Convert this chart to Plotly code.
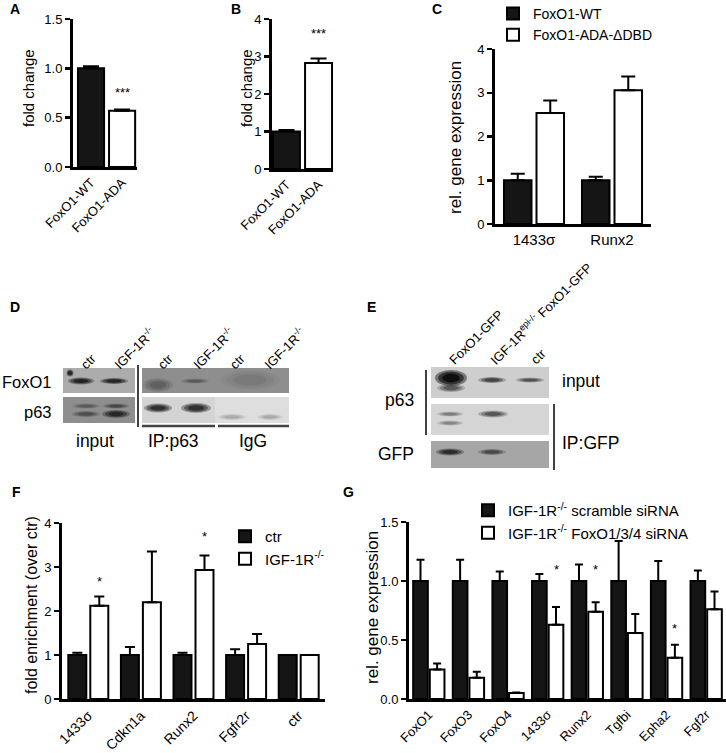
import plotly.graph_objects as go

W, H = 726, 753
def fx(x): return x / W
def fy(y): return 1 - y / H

# ---------------- data ----------------
A_cats = ["FoxO1-WT", "FoxO1-ADA"]
A_vals = [1.0, 0.57]
A_err = [0.02, 0.012]
A_star = [None, 0.76]

B_cats = ["FoxO1-WT", "FoxO1-ADA"]
B_vals = [1.0, 2.83]
B_err = [0.04, 0.12]
B_star = [None, 3.60]

C_genes = ["1433σ", "Runx2"]
C_wt = [1.0, 1.0]
C_wt_err = [0.15, 0.08]
C_ada = [2.54, 3.06]
C_ada_err = [0.28, 0.31]

F_genes = ["1433σ", "Cdkn1a", "Runx2", "Fgfr2r", "ctr"]
F_ctr = [1.0, 1.0, 1.0, 1.0, 1.0]
F_ctr_err = [0.05, 0.18, 0.05, 0.13, 0.0]
F_ko = [2.12, 2.20, 2.93, 1.25, 1.0]
F_ko_err = [0.21, 1.15, 0.33, 0.23, 0.0]
F_star = [2.66, None, 3.70, None, None]

G_genes = ["FoxO1", "FoxO3", "FoxO4", "1433σ", "Runx2", "Tgfbi", "Epha2", "Fgf2r"]
G_scr = [1.0, 1.0, 1.0, 1.0, 1.0, 1.0, 1.0, 1.0]
G_scr_err = [0.18, 0.18, 0.08, 0.06, 0.14, 0.34, 0.17, 0.09]
G_si = [0.25, 0.18, 0.05, 0.63, 0.74, 0.56, 0.35, 0.76]
G_si_err = [0.05, 0.05, 0.005, 0.15, 0.08, 0.16, 0.11, 0.15]
G_star = [None, None, None, 1.095, 1.095, None, 0.595, None]

BLACK = "#151515"
FONT = "Liberation Sans, Arial, sans-serif"

fig = go.Figure()

def err(arr, w=6):
    return dict(type="data", array=arr, arrayminus=[0] * len(arr), symmetric=False,
                color="black", thickness=2, width=w)

# A
fig.add_trace(go.Bar(x=A_cats, y=A_vals, width=0.84, marker=dict(color=[BLACK, "white"], line=dict(color="black", width=2)),
                     error_y=err(A_err, 8), showlegend=False, xaxis="x", yaxis="y"))
# B
fig.add_trace(go.Bar(x=B_cats, y=B_vals, width=0.84, marker=dict(color=[BLACK, "white"], line=dict(color="black", width=2)),
                     error_y=err(B_err, 8), showlegend=False, xaxis="x2", yaxis="y2"))
# C
cw, cg = 0.353, 0.064
fig.add_trace(go.Bar(x=C_genes, y=C_wt, name="FoxO1-WT", width=cw, offset=-cw - cg / 2,
                     marker=dict(color=BLACK, line=dict(color="black", width=2)),
                     error_y=err(C_wt_err, 7), xaxis="x3", yaxis="y3", legend="legend"))
fig.add_trace(go.Bar(x=C_genes, y=C_ada, name="FoxO1-ADA-ΔDBD", width=cw, offset=cg / 2,
                     marker=dict(color="white", line=dict(color="black", width=2)),
                     error_y=err(C_ada_err, 7), xaxis="x3", yaxis="y3", legend="legend"))
# F
fw, fgap = 0.342, 0.076
fig.add_trace(go.Bar(x=F_genes, y=F_ctr, name="ctr", width=fw, offset=-fw - fgap / 2,
                     marker=dict(color=BLACK, line=dict(color="black", width=2)),
                     error_y=err(F_ctr_err, 5), xaxis="x4", yaxis="y4", legend="legend2"))
fig.add_trace(go.Bar(x=F_genes, y=F_ko, name="IGF-1R<sup>-/-</sup>", width=fw, offset=fgap / 2,
                     marker=dict(color="white", line=dict(color="black", width=2)),
                     error_y=err(F_ko_err, 5), xaxis="x4", yaxis="y4", legend="legend2"))
# G
gw, ggap = 0.37, 0.05
fig.add_trace(go.Bar(x=G_genes, y=G_scr, name="IGF-1R<sup>-/-</sup> scramble siRNA", width=gw, offset=-gw - ggap / 2,
                     marker=dict(color=BLACK, line=dict(color="black", width=2)),
                     error_y=err(G_scr_err, 4), xaxis="x5", yaxis="y5", legend="legend3"))
fig.add_trace(go.Bar(x=G_genes, y=G_si, name="IGF-1R<sup>-/-</sup> FoxO1/3/4 siRNA", width=gw, offset=ggap / 2,
                     marker=dict(color="white", line=dict(color="black", width=2)),
                     error_y=err(G_si_err, 4), xaxis="x5", yaxis="y5", legend="legend3"))

def xax(x0, x1, rng, angle=-45, size=13):
    return dict(domain=[fx(x0), fx(x1)], range=rng, showline=True, linewidth=3, linecolor="black",
                ticks="", showgrid=False, zeroline=False, tickangle=angle, fixedrange=True, automargin=False,
                tickfont=dict(size=size, color="black"))

def yax(y0, y1, rng, tv, tt, anchor, size=13):
    return dict(domain=[fy(y1), fy(y0)], range=rng, tickvals=tv, ticktext=tt, showline=True, linewidth=3,
                linecolor="black", ticks="outside", ticklen=5, tickwidth=2.5, tickcolor="black", automargin=False,
                showgrid=False, zeroline=False, anchor=anchor, fixedrange=True, tickfont=dict(size=size, color="black"))

fig.update_layout(
    xaxis=dict(xax(73, 137, [-0.58, 1.48]), anchor="y"),
    yaxis=yax(19, 167, [0, 1.5], [0, 0.5, 1, 1.5], ["0.0", "0.5", "1.0", "1.5"], "x"),
    xaxis2=dict(xax(272, 333, [-0.45, 1.45]), anchor="y2"),
    yaxis2=yax(19, 169, [0, 4], [0, 1, 2, 3, 4], ["0", "1", "2", "3", "4"], "x2"),
    xaxis3=dict(xax(495, 651, [-0.5, 1.5], angle=0, size=15), anchor="y3"),
    yaxis3=yax(49, 224, [0, 4], [0, 1, 2, 3, 4], ["0", "1", "2", "3", "4"], "x3"),
    xaxis4=dict(xax(62, 325, [-0.5, 4.5], size=14), anchor="y4"),
    yaxis4=yax(523, 699, [0, 4], [0, 1, 2, 3, 4], ["0", "1", "2", "3", "4"], "x4"),
    xaxis5=dict(xax(409, 726, [-0.5, 7.5], size=13), anchor="y5"),
    yaxis5=yax(522, 699, [0, 1.5], [0, 0.5, 1, 1.5], ["0.0", "0.5", "1.0", "1.5"], "x5"),
)

leg_common = dict(xanchor="left", yanchor="top", bgcolor="rgba(0,0,0,0)", borderwidth=0,
                  tracegroupgap=0, itemclick=False, itemdoubleclick=False)
fig.update_layout(
    legend=dict(leg_common, x=fx(493), y=fy(-2), font=dict(size=14, color="black")),
    legend2=dict(leg_common, x=fx(225), y=fy(520), font=dict(size=15, color="black")),
    legend3=dict(leg_common, x=fx(468), y=fy(494), font=dict(size=15, color="black")),
)

ann = []
def text(x, y, t, size=17.5, xanchor="center", yanchor="middle", angle=0, bold=False):
    ann.append(dict(x=fx(x), y=fy(y), xref="paper", yref="paper", text=("<b>%s</b>" % t) if bold else t,
                    showarrow=False, xanchor=xanchor, yanchor=yanchor, textangle=angle,
                    font=dict(size=size, color="black", family=FONT)))

# panel letters
for L, x, y in [("A", 15, 9), ("B", 236, 9), ("C", 437, 9), ("D", 15, 307), ("E", 372, 307), ("F", 16, 492), ("G", 348, 492)]:
    text(x, y, L, size=14, bold=True)

# y-axis titles
text(28, 88, "fold change", size=15, angle=-90)
text(246, 88, "fold change", size=15, angle=-90)
text(455, 137, "rel. gene expression", size=17, angle=-90)
text(31, 605, "fold enrichment (over ctr)", size=16, angle=-90)
text(372, 607, "rel. gene expression", size=17, angle=-90)

# significance stars
def stars(xref, yref, ys, dx, label="*"):
    for i, v in enumerate(ys):
        if v is not None:
            ann.append(dict(x=i + dx, y=v, xref=xref, yref=yref, text=label, showarrow=False,
                            xanchor="center", yanchor="middle", font=dict(size=13, color="black", family=FONT)))
stars("x", "y", A_star, 0, "***")
stars("x2", "y2", B_star, 0, "***")
stars("x4", "y4", F_star, fgap / 2 + fw / 2)
stars("x5", "y5", G_star, ggap / 2 + gw / 2)

# ---------------- blots (decorative) ----------------
shapes = []
def rect(x0, y0, x1, y1, fill):
    shapes.append(dict(type="rect", xref="paper", yref="paper", x0=fx(x0), x1=fx(x1), y0=fy(y1), y1=fy(y0),
                       fillcolor=fill, line=dict(width=0), layer="above"))
def band(xc, yc, w, h, alpha):
    for s, a in [(1.0, 0.3), (0.8, 0.4), (0.55, 0.5)]:
        shapes.append(dict(type="circle", xref="paper", yref="paper",
                           x0=fx(xc - w * s / 2), x1=fx(xc + w * s / 2),
                           y0=fy(yc + h * s / 2), y1=fy(yc - h * s / 2),
                           fillcolor="black", opacity=min(1, alpha * a), line=dict(width=0), layer="above"))
def vline(x0, y0, x1, y1, width=1.5, color="black"):
    shapes.append(dict(type="line", xref="paper", yref="paper", x0=fx(x0), y0=fy(y0), x1=fx(x1), y1=fy(y1),
                       line=dict(color=color, width=width), layer="above"))

# D
rect(63, 368, 135, 393, "#acacac")
band(81, 381, 26, 7, 1.0); band(114, 381, 28, 6, 0.95); band(70, 373, 7, 7, 1.0)
rect(63, 397, 135, 423, "#8e8e8e")
band(86, 406, 28, 5, 0.35); band(86, 414, 28, 6, 0.45); band(116, 406, 26, 5, 0.5); band(116, 414, 28, 8, 0.85)
rect(142, 368, 289, 393, "#8e8e8e")
band(158, 385, 30, 14, 0.3); band(195, 381, 28, 5, 0.35); band(250, 380, 60, 20, 0.12)
rect(142, 397, 215, 423, "#d4d4d4"); rect(215, 397, 289, 423, "#dedede")
band(158, 408, 28, 9, 0.95); band(196, 408, 30, 10, 0.95); band(232, 417, 28, 6, 0.2); band(270, 417, 26, 6, 0.2)
vline(138, 365, 138, 427)
vline(142, 426, 215, 426, 2.5, "#444444"); vline(218, 426, 289, 426, 2.5, "#444444")

text(54, 382, "FoxO1", size=16.5, xanchor="right"); text(54, 412, "p63", size=16.5, xanchor="right")
text(95, 441, "input"); text(173, 441, "IP:p63"); text(253, 441, "IgG")
for x, t in [(75, "ctr"), (108, "IGF-1R<sup>-/-</sup>"), (152, "ctr"), (187, "IGF-1R<sup>-/-</sup>"),
             (224, "ctr"), (258, "IGF-1R<sup>-/-</sup>")]:
    text(x, 375, t, size=13, xanchor="left", yanchor="bottom", angle=-45)

# E
rect(431, 367, 549, 398, "#cecece")
band(451, 378, 32, 16, 1.4); band(451, 388, 28, 8, 0.6); band(492, 380, 28, 6, 0.75); band(530, 380, 28, 5, 0.65)
rect(431, 404, 549, 435, "#d5d5d5")
band(450, 414, 26, 5, 0.4); band(450, 423, 26, 5, 0.35); band(493, 414, 30, 7, 0.65)
rect(431, 441, 549, 468, "#a6a6a6")
band(450, 452, 28, 7, 0.9); band(492, 452, 28, 6, 0.6)
vline(426, 370, 426, 435); vline(554, 404, 554, 470)
text(416, 400, "p63", xanchor="right"); text(416, 454, "GFP", xanchor="right")
text(560, 381, "input", xanchor="left"); text(560, 443, "IP:GFP", xanchor="left")
for x, t in [(443, "FoxO1-GFP"), (484, "IGF-1R<sup>epi-/-</sup> FoxO1-GFP"), (525, "ctr")]:
    text(x, 370, t, size=13, xanchor="left", yanchor="bottom", angle=-45)

fig.update_layout(
    template="none",
    width=W, height=H, autosize=False, margin=dict(l=0, r=0, t=0, b=0, pad=0, autoexpand=False),
    paper_bgcolor="white", plot_bgcolor="white",
    font=dict(family=FONT, color="black"),
    barmode="overlay", annotations=ann, shapes=shapes,
)

fig.write_html("out.html", config={"displayModeBar": False, "staticPlot": True},
               post_script="document.body.style.margin='0';document.body.style.overflow='hidden';")
